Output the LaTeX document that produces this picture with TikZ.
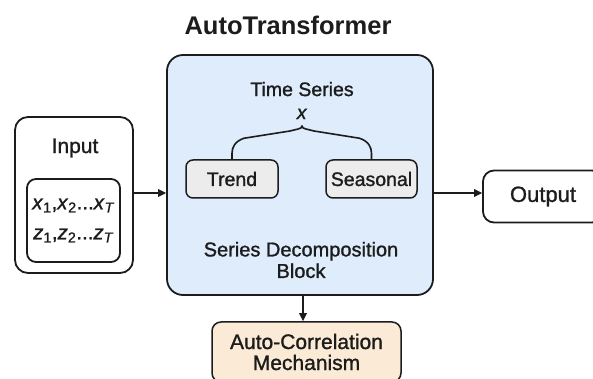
\documentclass[tikz,border=0pt]{standalone}
\usepackage{fontspec}
\setmainfont{Liberation Sans}
\newfontfamily\medium{Liberation Sans}[FakeBold=1.2]
\usetikzlibrary{positioning}
\usetikzlibrary{arrows.meta}
\definecolor{blockblue}{RGB}{222,236,251}
\definecolor{partgray}{RGB}{236,236,236}
\definecolor{corrpeach}{RGB}{250,234,214}
\definecolor{ink}{RGB}{28,28,28}
\newcommand{\sx}[1]{\textit{x}\textsubscript{#1}}
\newcommand{\sz}[1]{\textit{z}\textsubscript{#1}}
\tikzset{
    block/.style = {rectangle, rounded corners=16pt, line width=1.8pt, draw=ink, fill=blockblue, inner sep=0pt},
    frame/.style = {rectangle, rounded corners=13pt, line width=1.8pt, draw=ink, fill=white, inner sep=0pt, text=ink},
    part/.style = {rectangle, rounded corners=7pt, line width=1.5pt, draw=ink, inner sep=0pt, text=ink,
                   minimum height=38pt, font=\medium\fontsize{19.5}{22}\selectfont},
    txt/.style = {inner sep=0pt, align=center, text=ink, font=\medium\fontsize{20}{21.5}\selectfont},
    flow/.style = {-{Triangle[length=8pt,width=7.5pt]}, line width=1.5pt, draw=ink},
    bracket/.style = {line width=1.6pt, draw=ink, line cap=round},
}

\begin{document}
\begin{tikzpicture}[x=1pt, y=1pt]
\useasboundingbox (0,0) rectangle (593,379);

\node[txt, font=\fontsize{25.5}{30}\selectfont\bfseries] at (288, 354) (title) {AutoTransformer};

% decomposition block
\node[block, minimum width=266pt, minimum height=240pt] at (300, 204) (main) {};
\node[txt, font=\medium\fontsize{19.5}{23}\selectfont] at (302, 278.5) (ts) {Time Series\\\textit{x}};
\node[part, fill=partgray, minimum width=92pt] at (232, 200) (trend) {Trend};
\node[part, fill=partgray, minimum width=91pt] at (371.5, 200) (seasonal) {Seasonal};
\node[txt] at (301, 119) (sdb) {Series Decomposition\\Block};
\coordinate (tip) at (302, 253);
\draw[bracket] (trend.north) -- ++(0,6) .. controls +(0,6) and +(-9,-3) .. ++(12,15)
    -- ([xshift=-12pt,yshift=-5pt]tip) .. controls +(7,2) and +(0,-3) .. (tip);
\draw[bracket] (seasonal.north) -- ++(0,6) .. controls +(0,6) and +(9,-3) .. ++(-12,15)
    -- ([xshift=12pt,yshift=-5pt]tip) .. controls +(-7,2) and +(0,-3) .. (tip);

% input side
\node[frame, minimum width=118pt, minimum height=156pt] at (74, 184) (input) {};
\node[txt, font=\medium\fontsize{21}{24}\selectfont] at (75, 231) (intitle) {Input};
\node[frame, rounded corners=9pt, minimum width=93pt, minimum height=83pt,
      font=\medium\fontsize{20.5}{30}\selectfont, align=center] at (73.5, 158.5) (seq)
      {\sx{1},\sx{2}...\sx{\textit{T}}\\\sz{1},\sz{2}...\sz{\textit{T}}};

% output side
\node[frame, rounded corners=11pt, minimum width=120pt, minimum height=52pt,
      font=\medium\fontsize{22}{24}\selectfont] at (543, 182.5) (output) {Output};

% attention
\node[part, rounded corners=9pt, fill=corrpeach, minimum width=189pt, minimum height=60pt,
      align=center, font=\medium\fontsize{21}{21}\selectfont] at (306.5, 27) (corr) {Auto-Correlation\\Mechanism};

\coordinate (lane) at (0, 186);
\coordinate (drop) at (303, 0);
\draw[flow] (input.east |- lane) -- (main.west |- lane);
\draw[flow] (main.east |- lane) -- (output.west |- lane);
\draw[flow] (main.south -| drop) -- (corr.north -| drop);

\end{tikzpicture}
\end{document}
